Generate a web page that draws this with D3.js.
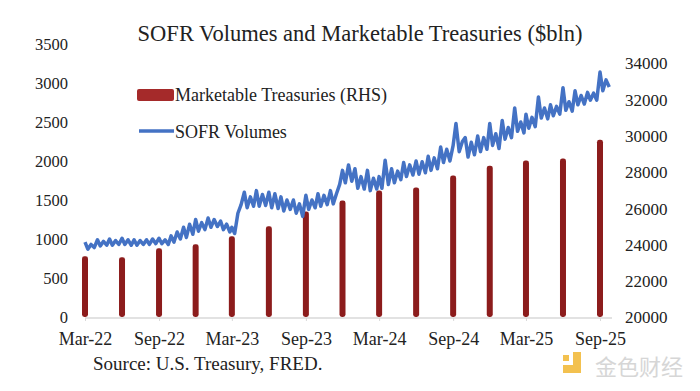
<!DOCTYPE html>
<html><head><meta charset="utf-8">
<script src="https://cdn.jsdelivr.net/npm/d3@7"></script>
<style>
html,body{margin:0;padding:0;background:#fff;}
svg{display:block;}
text{font-family:"Liberation Serif","Times New Roman",serif;fill:#222;}
</style></head>
<body>
<svg id="chart" width="700" height="391"></svg>
<script>
// ---- data ----
const title = "SOFR Volumes and Marketable Treasuries ($bln)";
const sourceText = "Source: U.S. Treasury, FRED.";
const leftTicks = [0, 500, 1000, 1500, 2000, 2500, 3000, 3500];
const rightTicks = [20000, 22000, 24000, 26000, 28000, 30000, 32000, 34000];
const xTickLabels = ["Mar-22","Sep-22","Mar-23","Sep-23","Mar-24","Sep-24","Mar-25","Sep-25"];
// quarterly marketable Treasuries (RHS), Mar-22 .. Sep-25
const treasuryQuarters = ["2022-03","2022-06","2022-09","2022-12","2023-03","2023-06","2023-09","2023-12",
  "2024-03","2024-06","2024-09","2024-12","2025-03","2025-06","2025-09"];
const treasuryValues = [23350, 23300, 23790, 24010, 24450, 25000, 25820, 26420,
  26970, 27140, 27800, 28340, 28620, 28730, 29770];
// SOFR volumes, four readings per month (days 1, 8, 16, 24), Mar-22 .. Sep-25
const sofrMonths = ["2022-03","2022-04","2022-05","2022-06","2022-07","2022-08","2022-09","2022-10","2022-11","2022-12",
  "2023-01","2023-02","2023-03","2023-04","2023-05","2023-06","2023-07","2023-08","2023-09","2023-10","2023-11","2023-12",
  "2024-01","2024-02","2024-03","2024-04","2024-05","2024-06","2024-07","2024-08","2024-09","2024-10","2024-11","2024-12",
  "2025-01","2025-02","2025-03","2025-04","2025-05","2025-06","2025-07","2025-08","2025-09"];
const sofrDays = [1, 8, 16, 24];
const sofrValues = [
  [960, 870, 930, 890],    [990, 910, 970, 920],    [1000, 920, 980, 930],   [1010, 930, 990, 920],
  [990, 920, 980, 930],    [990, 930, 1000, 940],   [1010, 940, 990, 930],   [1040, 960, 1090, 1000],
  [1150, 1020, 1190, 1060], [1250, 1100, 1210, 1120],
  [1270, 1150, 1250, 1160], [1230, 1120, 1190, 1090], [1150, 1070, 1330, 1440], [1600, 1400, 1540, 1420],
  [1620, 1420, 1570, 1430], [1600, 1400, 1580, 1390], [1540, 1360, 1500, 1380], [1500, 1330, 1450, 1290],
  [1560, 1380, 1500, 1400], [1580, 1420, 1560, 1440], [1620, 1450, 1580, 1700], [1880, 1720, 1950, 1740],
  [1900, 1650, 1800, 1640], [1880, 1620, 1780, 1640], [1800, 1650, 2010, 1700], [1900, 1720, 1870, 1760],
  [1980, 1800, 1950, 1820], [2000, 1830, 1990, 1850], [2060, 1880, 2040, 1900], [2180, 1980, 2150, 2000],
  [2200, 2480, 2120, 2250], [2300, 2050, 2240, 2080], [2320, 2120, 2300, 2150], [2480, 2200, 2350, 2160],
  [2520, 2280, 2430, 2300], [2680, 2380, 2500, 2360], [2600, 2420, 2560, 2440], [2820, 2550, 2680, 2540],
  [2720, 2580, 2700, 2600], [2940, 2650, 2760, 2640], [2900, 2720, 2840, 2730], [2880, 2780, 2870, 2780],
  [3140, 2900, 3040, 2950]
];
const legendBar = "Marketable Treasuries (RHS)";
const legendLine = "SOFR Volumes";
const watermark = "金色财经";

// ---- build ----
const parseM = d3.timeParse("%Y-%m");
const parseT = d3.timeParse("%b-%y");
const sofr = [];
sofrMonths.forEach((m, i) => {
  const base = parseM(m);
  sofrDays.forEach((day, j) => {
    sofr.push({date: new Date(base.getFullYear(), base.getMonth(), day), value: sofrValues[i][j]});
  });
});
const bars = treasuryQuarters.map((m, i) => ({date: parseM(m), value: treasuryValues[i]}));

const svg = d3.select("#chart");
const serif = "'Liberation Serif','Times New Roman',serif";
const x = d3.scaleTime().domain([parseM("2022-03"), parseM("2025-09")]).range([85, 600]);
const yL = d3.scaleLinear().domain([0, 3500]).range([317, 44]);
const yR = d3.scaleLinear().domain([20000, 34000]).range([317, 63]);

// title
svg.append("text").attr("x", 360).attr("y", 41).attr("text-anchor", "middle")
  .style("font-size", "22.5px").text(title);

// x axis baseline
svg.append("line").attr("x1", 85).attr("x2", 612).attr("y1", 318).attr("y2", 318)
  .attr("stroke", "#d9d9d9").attr("stroke-width", 1.5);

// x ticks + labels
const xTickDates = xTickLabels.map(s => parseT(s));
const xAxis = d3.axisBottom(x).tickValues(xTickDates).tickSize(3).tickFormat((d, i) => xTickLabels[i]);
const gx = svg.append("g").attr("transform", "translate(0,318)").call(xAxis);
gx.select(".domain").remove();
gx.selectAll(".tick line").attr("stroke", "#d9d9d9");
gx.selectAll(".tick text").attr("y", 14).attr("dy", "0.71em").style("font-size", "18px")
  .style("font-family", serif).attr("fill", "#222");

// left axis
const gl = svg.append("g").attr("transform", "translate(68,0)")
  .call(d3.axisLeft(yL).tickValues(leftTicks).tickSize(0).tickPadding(0).tickFormat(d3.format("d")));
gl.select(".domain").remove();
gl.selectAll(".tick text").style("font-size", "16.5px").attr("dy", "0.35em")
  .style("font-family", serif).attr("fill", "#222");

// right axis
const gr = svg.append("g").attr("transform", "translate(625,0)")
  .call(d3.axisRight(yR).tickValues(rightTicks).tickSize(0).tickPadding(0).tickFormat(d3.format("d")));
gr.select(".domain").remove();
gr.selectAll(".tick text").style("font-size", "17px").attr("dy", "0.35em")
  .style("font-family", serif).attr("fill", "#222");

// bars
svg.append("g").selectAll("rect").data(bars).join("rect")
  .attr("x", d => x(d.date) - 3).attr("width", 6)
  .attr("y", d => yR(d.value)).attr("height", d => yR(20000) - yR(d.value))
  .attr("rx", 2.4).attr("fill", "#8c1c1c");

// line
const line = d3.line().x(d => x(d.date)).y(d => yL(d.value));
svg.append("path").datum(sofr).attr("d", line).attr("fill", "none")
  .attr("stroke", "#4472c4").attr("stroke-width", 3.5).attr("stroke-linejoin", "round");

// legend
svg.append("rect").attr("x", 137).attr("y", 89).attr("width", 37).attr("height", 12)
  .attr("rx", 2).attr("fill", "#a52a2a");
svg.append("text").attr("x", 175).attr("y", 101).style("font-size", "18px").text(legendBar);
svg.append("line").attr("x1", 139).attr("x2", 174).attr("y1", 131).attr("y2", 131)
  .attr("stroke", "#4472c4").attr("stroke-width", 3.5);
svg.append("text").attr("x", 175).attr("y", 138).style("font-size", "18px").text(legendLine);

// source
svg.append("text").attr("x", 93).attr("y", 370).style("font-size", "19px").text(sourceText);

// watermark
const wm = svg.append("g").attr("opacity", 0.85);
wm.append("rect").attr("x", 573).attr("y", 352).attr("width", 8).attr("height", 21).attr("fill", "#f2b731");
wm.append("rect").attr("x", 563).attr("y", 365).attr("width", 18).attr("height", 8).attr("fill", "#f2b731");
wm.append("rect").attr("x", 563).attr("y", 355).attr("width", 6).attr("height", 6).attr("fill", "#f2b731");
wm.append("text").attr("x", 595).attr("y", 375).style("font-family", "'Noto Sans CJK SC',sans-serif")
  .style("font-size", "22px").style("fill", "#d0d0d0").text(watermark);
</script>
</body></html>
